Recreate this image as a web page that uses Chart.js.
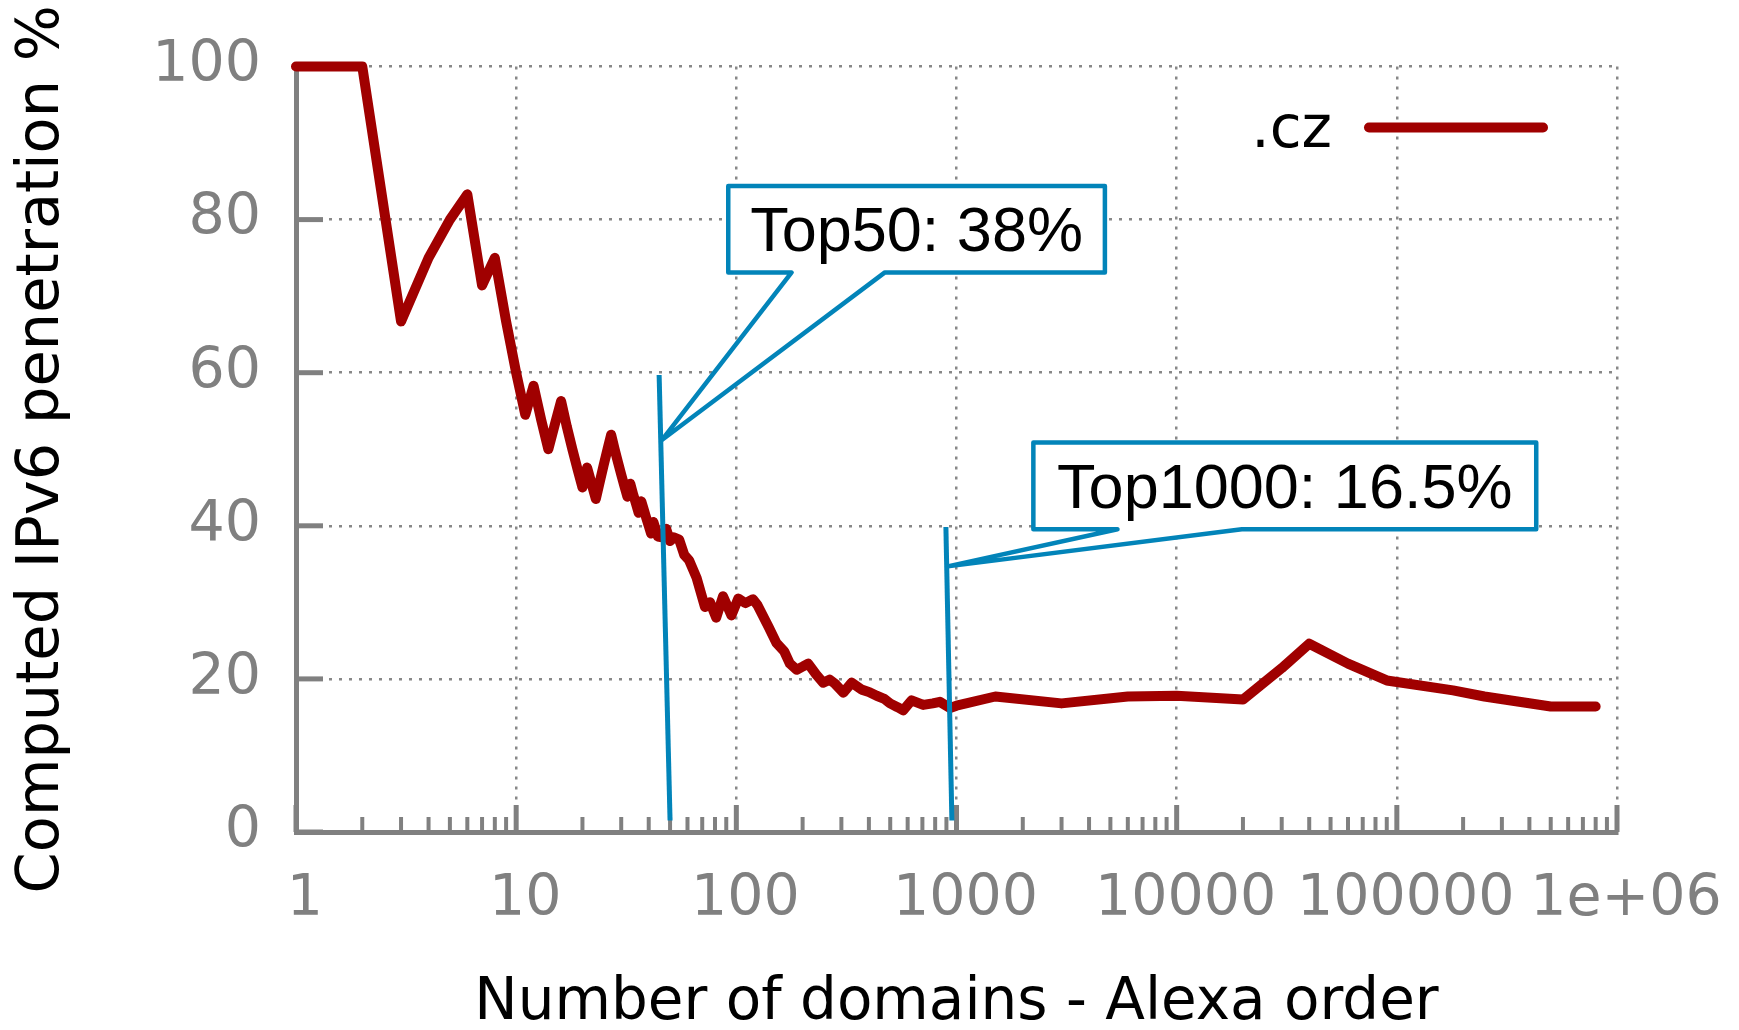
<!DOCTYPE html>
<html>
<head>
<meta charset="utf-8">
<script src="https://cdn.jsdelivr.net/npm/chart.js@4/dist/chart.umd.min.js"></script>
<style>
html,body{margin:0;padding:0;background:#ffffff;}
#wrap{width:1739px;height:1030px;position:relative;}
</style>
</head>
<body>
<div id="wrap"><canvas id="c" width="1739" height="1030"></canvas></div>
<script>
// ---------------- data ----------------
const seriesLabel = '.cz';
const domainCounts = [1,2,3,4,5,6,7,8,9,10,11,12,13,14,15,16,17,18,19,20,21,22,23,24,25,26,27,28,29,30,31,32,33,34,35,36,37,38,39,40,41,42,44,46,48,50,52,55,58,61,66,72,76,81,87,95,102,110,119,125,140,152,165,175,188,200,212,230,248,265,280,306,334,371,400,434,470,499,540,573,625,706,780,841,934,1000,1500,3000,6000,10000,20000,30000,40000,60000,90000,180000,250000,500000,800000];
const ipv6Share = [100,100,66.7,75,80,83.3,71.4,75,66.7,60,54.5,58.3,53.8,50,53.3,56.3,52.9,50,47.4,45,47.6,45.5,43.5,45.8,48,50,51.9,50,48.3,46.7,45.2,43.8,45.5,44.1,42.9,41.7,43.2,42.1,41,40,39,40.5,38.6,38.5,39.6,38,38.5,38.2,36.2,35.5,33.2,29.4,30,28,30.8,28.3,30.5,29.9,30.4,29.6,26.8,24.7,23.6,22,21.2,21.6,22,20.6,19.5,19.9,19.4,18.2,19.5,18.6,18.3,17.8,17.4,16.8,16.3,15.9,17.2,16.6,16.8,17,16.2,16.5,17.7,16.8,17.7,17.8,17.3,21.4,24.6,22,19.8,18.5,17.7,16.4,16.4];
const xTickValues = [1,10,100,1000,10000,100000,1000000];
const xTickLabels = ['1','10','100','1000','10000','100000','1e+06'];
const yTickValues = [0,20,40,60,80,100];
const xTitle = 'Number of domains - Alexa order';
const yTitle = 'Computed IPv6 penetration %';
const calloutTexts = ['Top50: 38%', 'Top1000: 16.5%'];

// callout geometry, in data coordinates (x = domains, y = %)
const callouts = [
  { text: calloutTexts[0],
    marker: {x1: 50, y1: 1.5, x2: 44.6, y2: 59.7},
    tip: {x: 45.9, y: 51.2},
    box: {x1: 91.9, x2: 4721, y1: 73.1, y2: 84.4},
    base: [178.3, 473] },
  { text: calloutTexts[1],
    marker: {x1: 953, y1: 1.5, x2: 895, y2: 39.85},
    tip: {x: 912, y: 34.7},
    box: {x1: 2234, x2: 429700, y1: 39.55, y2: 50.87},
    base: [5387, 19770] }
];

// ---------------- styles ----------------
const RED = '#a00000';
const BLUE = '#0284b9';
const GRAY = '#808080';
const FONT = '"DejaVu Sans", sans-serif';

function seg(ctx, x1, y1, x2, y2) {
  ctx.beginPath(); ctx.moveTo(x1, y1); ctx.lineTo(x2, y2); ctx.stroke();
}

const innerTicks = {
  id: 'innerTicks',
  beforeDatasetsDraw(chart) {
    const {ctx, chartArea: a, scales: {x, y}} = chart;
    ctx.save();
    ctx.strokeStyle = GRAY;
    ctx.lineCap = 'butt';
    ctx.lineWidth = 5;
    yTickValues.forEach(v => {
      const py = y.getPixelForValue(v);
      seg(ctx, a.left, py, a.left + 27, py);
    });
    xTickValues.forEach((base, i) => {
      const px = x.getPixelForValue(base);
      ctx.lineWidth = 5;
      seg(ctx, px, a.bottom, px, a.bottom - 27);
      if (i < xTickValues.length - 1) {
        ctx.lineWidth = 4;
        for (let m = 2; m <= 9; m++) {
          const p = x.getPixelForValue(base * m);
          seg(ctx, p, a.bottom, p, a.bottom - 15);
        }
      }
    });
    ctx.restore();
  }
};

const cornerLegend = {
  id: 'cornerLegend',
  afterDatasetsDraw(chart) {
    const {ctx, chartArea: a} = chart;
    const ds = chart.data.datasets[0];
    ctx.save();
    ctx.font = '58px ' + FONT;
    ctx.fillStyle = '#000';
    ctx.textAlign = 'right';
    ctx.textBaseline = 'alphabetic';
    ctx.fillText(ds.label, a.right - 285, a.top + 80);
    ctx.strokeStyle = ds.borderColor;
    ctx.lineWidth = 10;
    ctx.lineCap = 'round';
    seg(ctx, a.right - 248, a.top + 61, a.right - 74, a.top + 61);
    ctx.restore();
  }
};

const calloutPlugin = {
  id: 'callouts',
  afterDatasetsDraw(chart) {
    const {ctx, scales: {x, y}} = chart;
    ctx.save();
    callouts.forEach(c => {
      const L = x.getPixelForValue(c.box.x1), R = x.getPixelForValue(c.box.x2);
      const T = y.getPixelForValue(c.box.y2), B = y.getPixelForValue(c.box.y1);
      const b1 = x.getPixelForValue(c.base[0]), b2 = x.getPixelForValue(c.base[1]);
      const tx = x.getPixelForValue(c.tip.x), ty = y.getPixelForValue(c.tip.y);
      ctx.beginPath();
      ctx.moveTo(L, T); ctx.lineTo(R, T); ctx.lineTo(R, B); ctx.lineTo(b2, B);
      ctx.lineTo(tx, ty); ctx.lineTo(b1, B); ctx.lineTo(L, B); ctx.closePath();
      ctx.fillStyle = '#ffffff';
      ctx.fill();
      ctx.strokeStyle = BLUE;
      ctx.lineWidth = 4.5;
      ctx.lineJoin = 'round';
      ctx.stroke();
      // marker line
      ctx.lineWidth = 5;
      ctx.lineCap = 'butt';
      seg(ctx, x.getPixelForValue(c.marker.x1), y.getPixelForValue(c.marker.y1),
               x.getPixelForValue(c.marker.x2), y.getPixelForValue(c.marker.y2));
      // text
      ctx.fillStyle = '#000';
      ctx.font = '63px "Liberation Sans", Arial, sans-serif';
      ctx.textAlign = 'center';
      ctx.textBaseline = 'alphabetic';
      ctx.fillText(c.text, (L + R) / 2, (T + B) / 2 + 22);
    });
    ctx.restore();
  }
};

Chart.defaults.font.family = FONT;

new Chart(document.getElementById('c'), {
  type: 'line',
  data: {
    datasets: [{
      label: seriesLabel,
      data: domainCounts.map((n, i) => ({x: n, y: ipv6Share[i]})),
      borderColor: RED,
      backgroundColor: RED,
      borderWidth: 10,
      pointRadius: 0,
      pointHoverRadius: 0,
      tension: 0,
      borderJoinStyle: 'round',
      borderCapStyle: 'round',
      clip: false
    }]
  },
  options: {
    responsive: false,
    devicePixelRatio: 1,
    animation: false,
    events: [],
    layout: {padding: {top: 66.5, right: 122, bottom: 0, left: 0}},
    plugins: {legend: {display: false}, tooltip: {enabled: false}},
    scales: {
      x: {
        type: 'logarithmic',
        min: 1,
        max: 1000000,
        afterBuildTicks: s => { s.ticks = xTickValues.map(v => ({value: v})); },
        afterFit: s => { s.height = 198; s.paddingLeft = 0; s.paddingRight = 0; },
        ticks: {
          callback: v => { const i = xTickValues.indexOf(v); return i >= 0 ? xTickLabels[i] : ''; },
          autoSkip: false, maxRotation: 0, minRotation: 0,
          color: GRAY, font: {size: 57, lineHeight: 1.2}, padding: 34, labelOffset: 9
        },
        grid: {color: '#888888', lineWidth: 2.5, drawTicks: false},
        border: {display: true, color: GRAY, width: 5, dash: [3, 7]},
        title: {display: true, text: xTitle, color: '#000', font: {size: 58, lineHeight: 1}, padding: {top: 0, bottom: -3}}
      },
      y: {
        type: 'linear',
        min: 0,
        max: 100,
        afterBuildTicks: s => { s.ticks = yTickValues.map(v => ({value: v})); },
        afterFit: s => { s.width = 296; s.paddingTop = 0; s.paddingBottom = 0; },
        ticks: {color: GRAY, font: {size: 57, lineHeight: 1.2}, padding: 35},
        grid: {color: '#888888', lineWidth: 2.5, drawTicks: false},
        border: {display: true, color: GRAY, width: 5, dash: [3, 7]},
        title: {display: true, text: yTitle, color: '#000', font: {size: 59, lineHeight: 1}, padding: {top: 13, bottom: 0}}
      }
    }
  },
  plugins: [innerTicks, cornerLegend, calloutPlugin]
});
</script>
</body>
</html>
